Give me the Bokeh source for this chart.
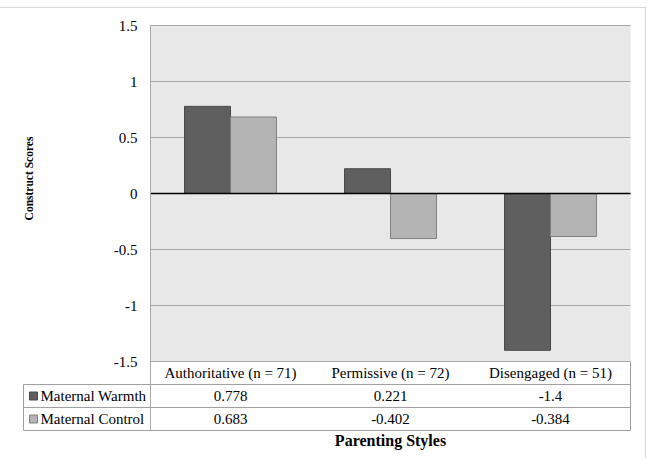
import math
from bokeh.plotting import figure
from bokeh.models import Range1d, FixedTicker, BoxAnnotation, ColumnDataSource
from bokeh.transform import dodge
from bokeh.embed import file_html
from bokeh.resources import INLINE
from bokeh.core.properties import value

# Data
styles = ["Authoritative (n = 71)", "Permissive (n = 72)", "Disengaged (n = 51)"]
warmth = [0.778, 0.221, -1.4]
control = [0.683, -0.402, -0.384]
series_names = ["Maternal Warmth", "Maternal Control"]
y_ticks = [-1.5, -1, -0.5, 0, 0.5, 1, 1.5]
y_tick_labels = ["-1.5", "-1", "-0.5", "0", "0.5", "1", "1.5"]

# Styling
FONT = "Liberation Serif"
DARK, DARK_EDGE = "#5f5f5f", "#484848"
LIGHT, LIGHT_EDGE = "#b4b4b4", "#808080"
PLOT_BG = "#e8e8e8"
GRID = "#a8a8a8"
TABLE_LINE = "#a0a0a0"
BAR_W = 0.2875          # width of one bar, in category units

# Geometry: x in category units (0 = left edge of the plot area),
# y in construct-score units; the data table hangs below the -1.5 line.
W, H = 646, 451
X0_PX, CAT_PX = 150, 160        # plot-area left edge and category width
Y0_PX, UNIT_PX = 185, 112       # zero line (from canvas top) and px per unit
ROW = 23 / UNIT_PX              # table row height
Y_MIN, Y_MAX = min(y_ticks), max(y_ticks)
ncat = len(styles)
LEFT = -127 / CAT_PX            # left edge of the series-name column

def px_x(px):
    return (px - X0_PX) / CAT_PX

def px_y(px):
    return (Y0_PX - px) / UNIT_PX

pos = [i + 0.5 for i in range(ncat)]
src = ColumnDataSource(dict(pos=pos, style=styles, warmth=warmth, control=control))

p = figure(x_range=Range1d(px_x(0), px_x(W)), y_range=Range1d(px_y(H), px_y(0)),
           width=W, height=H, min_border=0,
           output_backend="svg", toolbar_location=None,
           styles={"border-top": "1px solid #d9d9d9",
                   "border-right": "1px solid #d9d9d9",
                   "margin-top": "7px"})
p.background_fill_color = "white"
p.border_fill_color = "white"
p.outline_line_color = None
p.xaxis.visible = False
p.xgrid.grid_line_color = None

# grey plot area behind the grid
p.add_layout(BoxAnnotation(left=0, right=ncat, bottom=Y_MIN, top=Y_MAX,
                           fill_color=PLOT_BG, fill_alpha=1, line_color=None,
                           level="image"))
p.ygrid.ticker = FixedTicker(ticks=y_ticks)
p.ygrid.cross_bounds = (0, ncat)
p.ygrid.grid_line_color = GRID

ax = p.yaxis[0]
ax.fixed_location = 0
ax.ticker = FixedTicker(ticks=y_ticks)
ax.major_label_overrides = {float(t): s for t, s in zip(y_ticks, y_tick_labels)}
ax.axis_line_color = None
ax.major_tick_line_color = None
ax.major_tick_out = 0
ax.major_tick_in = 0
ax.minor_tick_line_color = None
ax.major_label_standoff = 13
ax.major_label_text_font = FONT
ax.major_label_text_font_size = "15px"
ax.major_label_text_color = "black"

# bars
p.vbar(x=dodge("pos", -BAR_W / 2), top="warmth", bottom=0, width=BAR_W,
       source=src, fill_color=DARK, line_color=DARK_EDGE)
p.vbar(x=dodge("pos", BAR_W / 2), top="control", bottom=0, width=BAR_W,
       source=src, fill_color=LIGHT, line_color=LIGHT_EDGE)
p.segment(x0=[0], x1=[ncat], y0=[0], y1=[0], line_color="black", line_width=1.5)

# plot-area edge and table rules
t_rows = [Y_MIN - ROW * k for k in (1, 2, 3)]
p.segment(x0=[LEFT] * 3, x1=[ncat] * 3, y0=t_rows, y1=t_rows,
          line_color=TABLE_LINE, line_width=1)
p.segment(x0=[0, ncat, LEFT], x1=[0, ncat, LEFT],
          y0=[Y_MAX, Y_MIN, t_rows[0]], y1=[t_rows[2]] * 3,
          line_color=[GRID, TABLE_LINE, TABLE_LINE], line_width=1)

txt = dict(text_font=value(FONT), text_font_size="15px", text_color="black",
           text_align="center", text_baseline="middle")
p.text(x=pos, y=[Y_MIN - ROW * 0.5] * ncat, text=styles, **txt)
p.text(x=pos, y=[Y_MIN - ROW * 1.5] * ncat, text=[str(v) for v in warmth], **txt)
p.text(x=pos, y=[Y_MIN - ROW * 2.5] * ncat, text=[str(v) for v in control], **txt)

key_x = px_x(33)
p.scatter(x=[key_x, key_x], y=[Y_MIN - ROW * 1.5, Y_MIN - ROW * 2.5],
          marker="square", size=8,
          fill_color=[DARK, LIGHT], line_color=[DARK_EDGE, LIGHT_EDGE])
p.text(x=[px_x(40)] * 2, y=[Y_MIN - ROW * 1.5, Y_MIN - ROW * 2.5], text=series_names,
       text_font=value(FONT), text_font_size="15px", text_color="black",
       text_align="left", text_baseline="middle")

# axis titles
p.text(x=[ncat / 2], y=[px_y(432)], text=["Parenting Styles"],
       text_font=value(FONT), text_font_size="16px", text_font_style="bold",
       text_color="black", text_align="center", text_baseline="middle")
p.text(x=[px_x(28)], y=[px_y(170)], text=["Construct Scores"], angle=math.pi / 2,
       text_font=value(FONT), text_font_size="11.5px", text_font_style="bold",
       text_color="black", text_align="center", text_baseline="middle")

open("out.html", "w").write(file_html(p, INLINE))
